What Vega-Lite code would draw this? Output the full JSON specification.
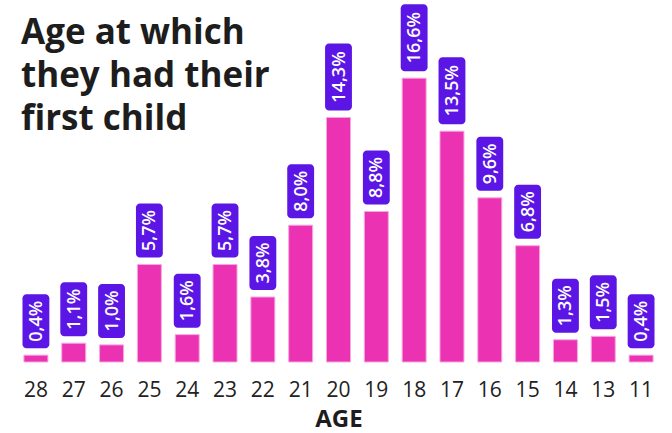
{
  "$schema": "https://vega.github.io/schema/vega-lite/v6.json",
  "width": 643,
  "height": 362,
  "autosize": {"type": "none"},
  "padding": {"left": 17, "top": 0, "right": 12, "bottom": 71},
  "background": "white",
  "config": {"view": {"stroke": null}},
  "title": {
    "text": ["Age at which", "they had their", "first child"],
    "anchor": "start",
    "frame": "group",
    "orient": "top",
    "baseline": "alphabetic",
    "offset": -42,
    "dy": 123,
    "dx": 4,
    "fontSize": 35,
    "font": "Open Sans",
    "fontWeight": "bold",
    "color": "#1d1d1d",
    "lineHeight": 43
  },
  "data": {
    "values": [
      {"age": "28", "value": 0.4, "label": "0,4%"},
      {"age": "27", "value": 1.1, "label": "1,1%"},
      {"age": "26", "value": 1.0, "label": "1,0%"},
      {"age": "25", "value": 5.7, "label": "5,7%"},
      {"age": "24", "value": 1.6, "label": "1,6%"},
      {"age": "23", "value": 5.7, "label": "5,7%"},
      {"age": "22", "value": 3.8, "label": "3,8%"},
      {"age": "21", "value": 8.0, "label": "8,0%"},
      {"age": "20", "value": 14.3, "label": "14,3%"},
      {"age": "19", "value": 8.8, "label": "8,8%"},
      {"age": "18", "value": 16.6, "label": "16,6%"},
      {"age": "17", "value": 13.5, "label": "13,5%"},
      {"age": "16", "value": 9.6, "label": "9,6%"},
      {"age": "15", "value": 6.8, "label": "6,8%"},
      {"age": "14", "value": 1.3, "label": "1,3%"},
      {"age": "13", "value": 1.5, "label": "1,5%"},
      {"age": "11", "value": 0.4, "label": "0,4%"}
    ]
  },
  "encoding": {
    "x": {
      "field": "age",
      "type": "ordinal",
      "sort": null,
      "scale": {"paddingInner": 0, "paddingOuter": 0},
      "axis": {
        "domain": false,
        "ticks": false,
        "grid": false,
        "labelAngle": 0,
        "labelFont": "Open Sans",
        "labelFontSize": 21,
        "labelColor": "#222222",
        "labelPadding": 17,
        "title": "AGE",
        "titleFont": "Open Sans",
        "titleFontSize": 24,
        "titleFontWeight": "bold",
        "titleColor": "#1d1d1d",
        "titlePadding": 7
      }
    },
    "y": {
      "field": "value",
      "type": "quantitative",
      "scale": {"domain": [0, 21.17], "nice": false, "zero": true},
      "axis": null
    }
  },
  "layer": [
    {
      "mark": {"type": "bar", "width": {"band": 0.634}, "fill": "#ea32b2", "stroke": "#f7a6df", "strokeWidth": 1}
    },
    {
      "transform": [{"filter": "length(datum.label) == 5"}],
      "layer": [
        {
          "mark": {"type": "bar", "width": {"band": 0.71}, "fill": "#5b16e6", "cornerRadius": 4, "yOffset": -7, "y2Offset": -74},
          "encoding": {"y2": {"field": "value"}}
        },
        {
          "mark": {"type": "text", "angle": 270, "align": "center", "baseline": "middle", "dx": 40.5, "dy": 1, "font": "Open Sans", "fontSize": 18, "fontWeight": 600, "fill": "white"},
          "encoding": {"text": {"field": "label"}}
        }
      ]
    },
    {
      "transform": [{"filter": "length(datum.label) == 4"}],
      "layer": [
        {
          "mark": {"type": "bar", "width": {"band": 0.71}, "fill": "#5b16e6", "cornerRadius": 4, "yOffset": -7, "y2Offset": -61},
          "encoding": {"y2": {"field": "value"}}
        },
        {
          "mark": {"type": "text", "angle": 270, "align": "center", "baseline": "middle", "dx": 34, "dy": 1, "font": "Open Sans", "fontSize": 18, "fontWeight": 600, "fill": "white"},
          "encoding": {"text": {"field": "label"}}
        }
      ]
    }
  ]
}
